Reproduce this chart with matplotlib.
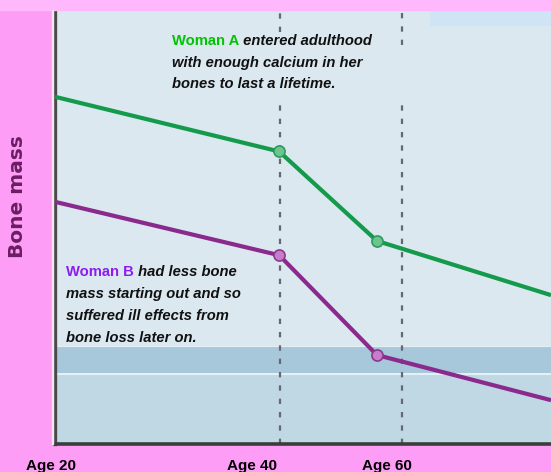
import matplotlib
matplotlib.use("Agg")
import matplotlib.pyplot as plt
from matplotlib.patches import Rectangle

# Data (x is position along the age axis, 0 = age 20 at left edge, 100 = right edge)
x_points = [0, 45.2, 64.9, 100]
woman_a = [80.0, 67.4, 46.8, 34.3]
woman_b = [55.8, 43.5, 20.5, 10.1]
marker_idx = [1, 2]

age_labels = ["Age 20", "Age 40", "Age 60"]
age_label_pos = [-0.8, 39.7, 66.9]
ref_lines = [45.3, 69.9]

green = "#139a4a"
purple = "#8a2a8c"

fig = plt.figure(figsize=(5.51, 4.72), dpi=100, facecolor="#fd9df6")
fig.patches.append(Rectangle((0, 1 - 10 / 472), 1, 10 / 472, transform=fig.transFigure,
                             color="#ffb8fb", zorder=0))
ax = fig.add_axes([55 / 551, 28 / 472, 496 / 551, 434 / 472])
ax.set_facecolor("#dbe8f0")
ax.set_xlim(0, 100)
ax.set_ylim(0, 100)

# background bands
ax.axhspan(0, 15.9, color="#bfd8e4", zorder=0)
ax.axhspan(16.4, 22.4, color="#a6c8da", zorder=0)
ax.axhline(16.15, color="#e4f0f6", lw=1.5, zorder=0)
ax.axhline(22.6, color="#e4f0f6", lw=0.8, zorder=0)
ax.add_patch(Rectangle((75.6, 96.5), 24.4, 3.5, color="#cfe5f6", zorder=0))

# dashed age markers (broken where the text block sits)
dash = (0, (2.4, 3.6))
ax.vlines([ref_lines[0]] * 2, [95.0, 0], [100, 79.5], colors="#646870", lw=1.6, linestyles=[dash], zorder=1)
ax.vlines([ref_lines[1]] * 2, [92.0, 0], [100, 79.5], colors="#646870", lw=1.6, linestyles=[dash], zorder=1)

# bone mass lines
ax.plot(x_points, woman_a, color=green, lw=3.0, solid_capstyle="butt", zorder=3)
ax.plot(x_points, woman_b, color=purple, lw=3.0, solid_capstyle="butt", zorder=3)
ax.plot([x_points[i] for i in marker_idx], [woman_a[i] for i in marker_idx], "o",
        ms=8, mfc="#6cc48e", mec="#2f9a5c", mew=1.2, zorder=4)
ax.plot([x_points[i] for i in marker_idx], [woman_b[i] for i in marker_idx], "o",
        ms=8, mfc="#c87ccc", mec="#8a3a8a", mew=1.2, zorder=4)

# annotations
fs = 10.6
t = ax.text(23.6, 91.9, "Woman A", color="#00c400", fontsize=fs, fontweight="bold",
            family="Liberation Sans", va="baseline")
ax.annotate(" entered adulthood", xy=(1, 0), xycoords=t, va="bottom", fontsize=fs,
            fontweight="bold", style="italic", family="Liberation Sans", color="#111111")
ax.text(23.6, 86.9, "with enough calcium in her", fontsize=fs, fontweight="bold",
        style="italic", family="Liberation Sans", color="#111111", va="baseline")
ax.text(23.6, 82.0, "bones to last a lifetime.", fontsize=fs, fontweight="bold",
        style="italic", family="Liberation Sans", color="#111111", va="baseline")

t = ax.text(2.2, 38.8, "Woman B", color="#8c1cf0", fontsize=fs, fontweight="bold",
            family="Liberation Sans", va="baseline")
ax.annotate(" had less bone", xy=(1, 0), xycoords=t, va="bottom", fontsize=fs,
            fontweight="bold", style="italic", family="Liberation Sans", color="#111111")
b_lines = ["mass starting out and so", "suffered ill effects from", "bone loss later on."]
for y, s in zip([33.6, 28.6, 23.6], b_lines):
    ax.text(2.2, y, s, fontsize=fs, fontweight="bold", style="italic",
            family="Liberation Sans", color="#111111", va="baseline")

# axes styling
for side in ["top", "right"]:
    ax.spines[side].set_visible(False)
ax.spines["left"].set_color("#4a4a4a")
ax.spines["left"].set_linewidth(2.4)
ax.spines["bottom"].set_color("#3c3c3c")
ax.spines["bottom"].set_linewidth(2.6)
ax.set_xticks([])
ax.set_yticks([])
# thin light edge just left of the y axis
fig.patches.append(Rectangle((52 / 551, 28 / 472), 1 / 551, 434 / 472, transform=fig.transFigure,
                             color="#f4e4f4", zorder=0))

for x, s in zip(age_label_pos, age_labels):
    ax.text(x, -3.4, s, ha="center", va="top", fontsize=11, fontweight="bold",
            family="Liberation Sans", color="black", clip_on=False)

fig.text(18 / 551, 1 - 197 / 472, "Bone mass", rotation=90, ha="center", va="center",
         fontsize=14.5, fontweight="bold", family="DejaVu Sans", color="#6b1d63")

fig.savefig("out.png", dpi=100, facecolor=fig.get_facecolor())
